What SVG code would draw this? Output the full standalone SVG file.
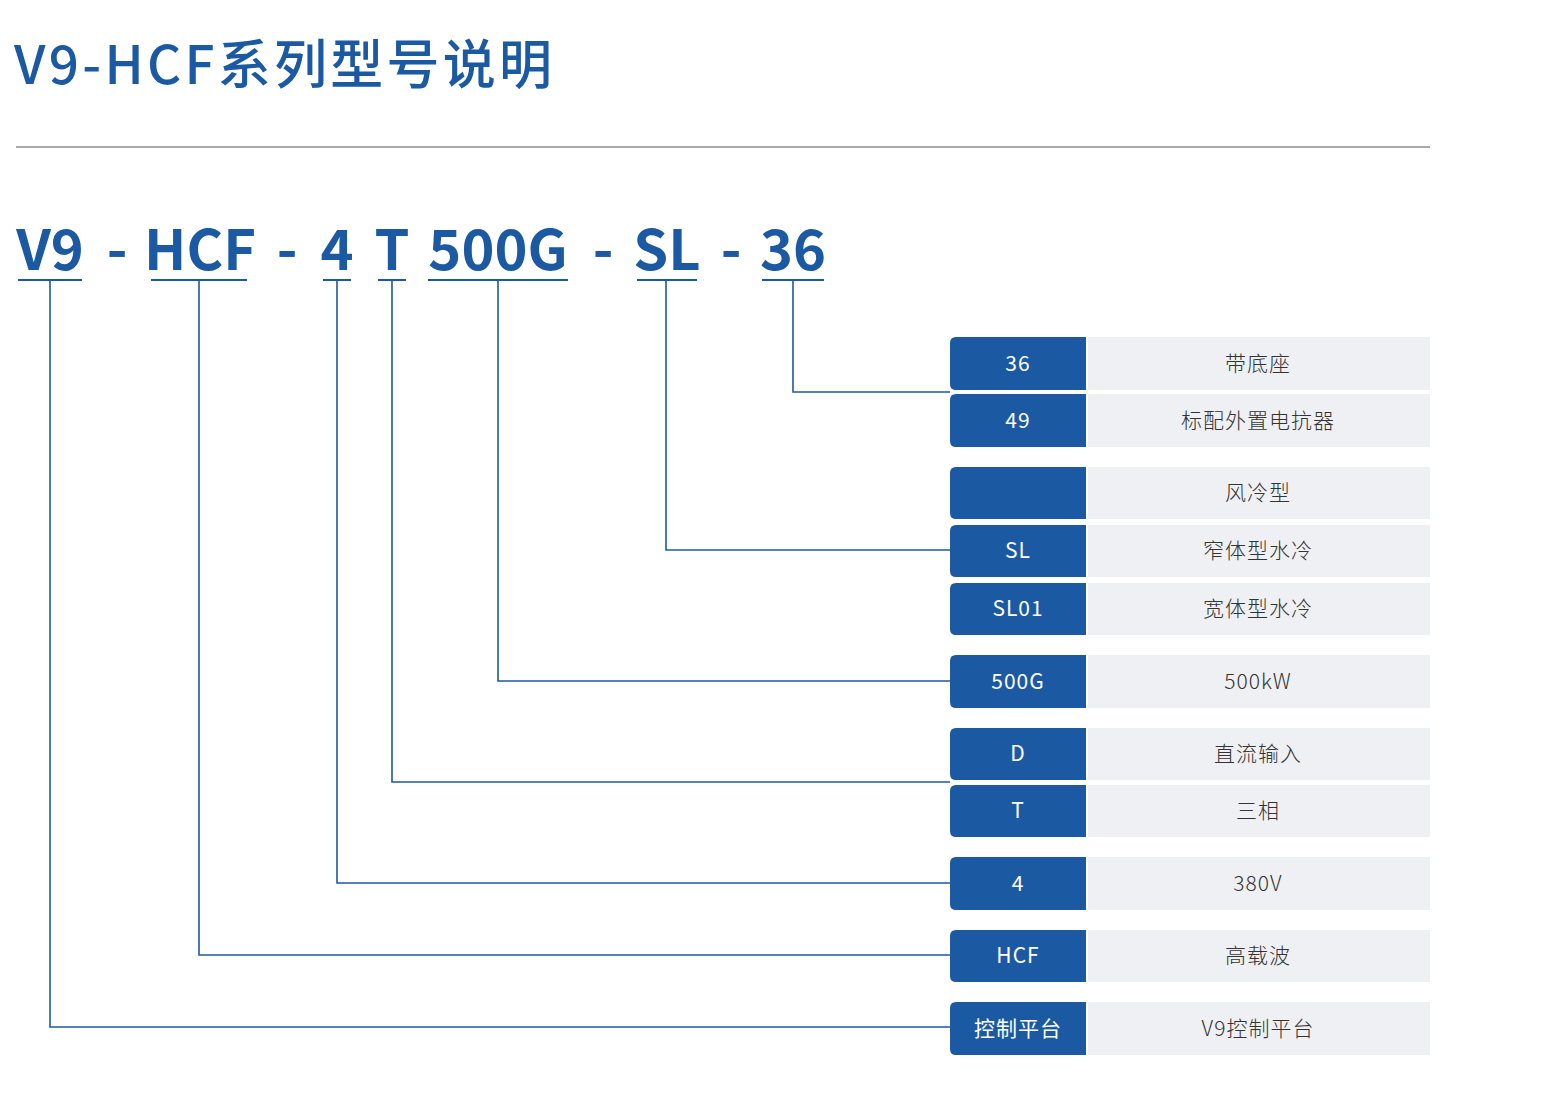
<svg xmlns="http://www.w3.org/2000/svg" width="1548" height="1097" viewBox="0 0 1548 1097">
<style>
.t{font-family:"Noto Sans CJK SC","Noto Sans",sans-serif;fill:#1b5aa3;font-weight:500}
.code{font-family:"Noto Sans CJK SC","Noto Sans",sans-serif;font-weight:bold;font-size:56px;fill:#1b5aa3;text-anchor:middle}
.ul{stroke:#1b5aa3;stroke-width:2}
.c{fill:none;stroke:#1b5aa3;stroke-width:1.6}
.k{fill:#1b5aa3}
.v{fill:#eff0f3}
.kt{font-family:"Noto Sans CJK SC","Noto Sans",sans-serif;font-size:21px;fill:#fff;text-anchor:middle;letter-spacing:1px}
.vt{font-family:"Noto Sans CJK SC","Noto Sans",sans-serif;font-size:21px;fill:#333;text-anchor:middle;letter-spacing:1px;font-weight:300}
</style>
<rect width="1548" height="1097" fill="#fff"/>
<text class="t" x="14" y="84" font-size="53" textLength="538" lengthAdjust="spacing">V9-HCF系列型号说明</text>
<line x1="16" y1="147" x2="1430" y2="147" stroke="#aaa" stroke-width="2"/>
<g id="code">
<text class="code" x="50" y="270">V9</text>
<text class="code" x="117" y="270">-</text>
<text class="code" x="200" y="270">HCF</text>
<text class="code" x="287" y="270">-</text>
<text class="code" x="337" y="270">4</text>
<text class="code" x="392" y="270">T</text>
<text class="code" x="498" y="270">500G</text>
<text class="code" x="603" y="270">-</text>
<text class="code" x="667" y="270">SL</text>
<text class="code" x="731" y="270">-</text>
<text class="code" x="793" y="270">36</text>
<line class="ul" x1="18" y1="280" x2="82" y2="280"/>
<line class="ul" x1="151" y1="280" x2="247" y2="280"/>
<line class="ul" x1="323" y1="280" x2="351" y2="280"/>
<line class="ul" x1="378" y1="280" x2="406" y2="280"/>
<line class="ul" x1="428" y1="280" x2="568" y2="280"/>
<line class="ul" x1="637" y1="280" x2="697" y2="280"/>
<line class="ul" x1="762" y1="280" x2="824" y2="280"/>
</g>
<g id="connectors">
<path class="c" d="M793 280V392H950"/>
<path class="c" d="M666 280V550H950"/>
<path class="c" d="M498 280V681H950"/>
<path class="c" d="M392 280V782H950"/>
<path class="c" d="M337 280V883H950"/>
<path class="c" d="M199 280V955H950"/>
<path class="c" d="M50 280V1027H950"/>
</g>
<g id="r36"><path class="k" d="M1086 337V390H956Q950 390 950 384V343Q950 337 956 337Z"/><rect class="v" x="1088" y="337" width="342" height="53"/><text class="kt" x="1018" y="371">36</text><text class="vt" x="1258" y="371">带底座</text></g>
<g id="r49"><path class="k" d="M1086 394V447H956Q950 447 950 441V400Q950 394 956 394Z"/><rect class="v" x="1088" y="394" width="342" height="53"/><text class="kt" x="1018" y="428">49</text><text class="vt" x="1258" y="428">标配外置电抗器</text></g>
<g id="rair"><path class="k" d="M1086 467V519H956Q950 519 950 513V473Q950 467 956 467Z"/><rect class="v" x="1088" y="467" width="342" height="52"/><text class="vt" x="1258" y="500">风冷型</text></g>
<g id="rSL"><path class="k" d="M1086 525V577H956Q950 577 950 571V531Q950 525 956 525Z"/><rect class="v" x="1088" y="525" width="342" height="52"/><text class="kt" x="1018" y="558">SL</text><text class="vt" x="1258" y="558">窄体型水冷</text></g>
<g id="rSL01"><path class="k" d="M1086 583V635H956Q950 635 950 629V589Q950 583 956 583Z"/><rect class="v" x="1088" y="583" width="342" height="52"/><text class="kt" x="1018" y="616">SL01</text><text class="vt" x="1258" y="616">宽体型水冷</text></g>
<g id="r500G"><path class="k" d="M1086 655V708H956Q950 708 950 702V661Q950 655 956 655Z"/><rect class="v" x="1088" y="655" width="342" height="53"/><text class="kt" x="1018" y="689">500G</text><text class="vt" x="1258" y="689">500kW</text></g>
<g id="rD"><path class="k" d="M1086 728V780H956Q950 780 950 774V734Q950 728 956 728Z"/><rect class="v" x="1088" y="728" width="342" height="52"/><text class="kt" x="1018" y="761">D</text><text class="vt" x="1258" y="761">直流输入</text></g>
<g id="rT"><path class="k" d="M1086 785V837H956Q950 837 950 831V791Q950 785 956 785Z"/><rect class="v" x="1088" y="785" width="342" height="52"/><text class="kt" x="1018" y="818">T</text><text class="vt" x="1258" y="818">三相</text></g>
<g id="r4"><path class="k" d="M1086 857V910H956Q950 910 950 904V863Q950 857 956 857Z"/><rect class="v" x="1088" y="857" width="342" height="53"/><text class="kt" x="1018" y="891">4</text><text class="vt" x="1258" y="891">380V</text></g>
<g id="rHCF"><path class="k" d="M1086 930V982H956Q950 982 950 976V936Q950 930 956 930Z"/><rect class="v" x="1088" y="930" width="342" height="52"/><text class="kt" x="1018" y="963">HCF</text><text class="vt" x="1258" y="963">高载波</text></g>
<g id="rV9"><path class="k" d="M1086 1002V1055H956Q950 1055 950 1049V1008Q950 1002 956 1002Z"/><rect class="v" x="1088" y="1002" width="342" height="53"/><text class="kt" x="1018" y="1036">控制平台</text><text class="vt" x="1258" y="1036">V9控制平台</text></g>
</svg>
